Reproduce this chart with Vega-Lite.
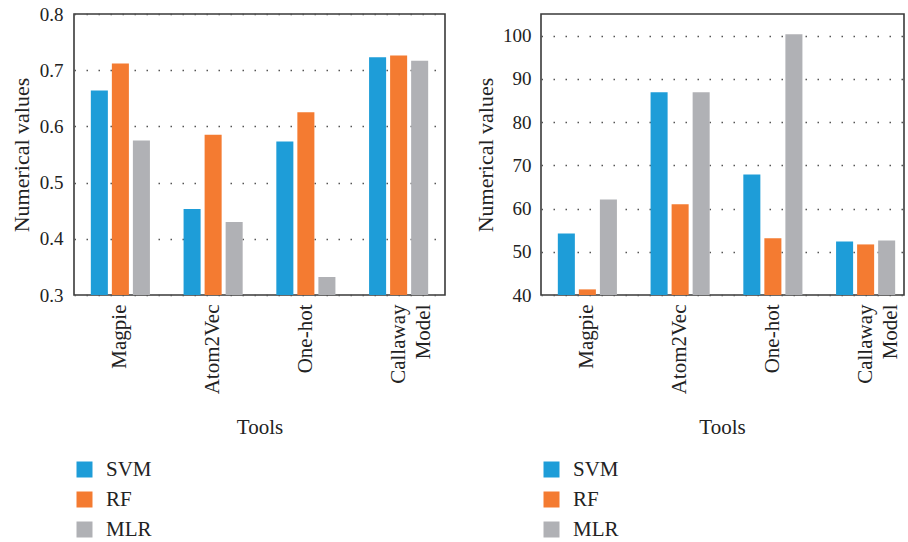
{
  "$schema": "https://vega.github.io/schema/vega-lite/v6.json",
  "padding": {"left": 9, "top": 4, "right": 0, "bottom": 0},
  "background": "white",
  "config": {
    "font": "Liberation Serif",
    "view": {"stroke": "#3a3a3a", "strokeWidth": 1.6},
    "axis": {
      "labelColor": "#222222",
      "titleColor": "#222222",
      "titleFontWeight": "normal",
      "labelFontSize": 19,
      "titleFontSize": 21,
      "ticks": false,
      "domain": false
    },
    "legend": {
      "labelColor": "#222222"
    }
  },
  "datasets": {
    "left": [
      {"tool": "Magpie", "model": "SVM", "value": 0.664},
      {"tool": "Magpie", "model": "RF", "value": 0.712},
      {"tool": "Magpie", "model": "MLR", "value": 0.575},
      {"tool": "Atom2Vec", "model": "SVM", "value": 0.453},
      {"tool": "Atom2Vec", "model": "RF", "value": 0.585},
      {"tool": "Atom2Vec", "model": "MLR", "value": 0.430},
      {"tool": "One-hot", "model": "SVM", "value": 0.573},
      {"tool": "One-hot", "model": "RF", "value": 0.625},
      {"tool": "One-hot", "model": "MLR", "value": 0.332},
      {"tool": "Callaway Model", "model": "SVM", "value": 0.723},
      {"tool": "Callaway Model", "model": "RF", "value": 0.726},
      {"tool": "Callaway Model", "model": "MLR", "value": 0.717}
    ],
    "right": [
      {"tool": "Magpie", "model": "SVM", "value": 54.2},
      {"tool": "Magpie", "model": "RF", "value": 41.3},
      {"tool": "Magpie", "model": "MLR", "value": 62.1},
      {"tool": "Atom2Vec", "model": "SVM", "value": 86.9},
      {"tool": "Atom2Vec", "model": "RF", "value": 61.0},
      {"tool": "Atom2Vec", "model": "MLR", "value": 86.9},
      {"tool": "One-hot", "model": "SVM", "value": 67.9},
      {"tool": "One-hot", "model": "RF", "value": 53.1},
      {"tool": "One-hot", "model": "MLR", "value": 100.3},
      {"tool": "Callaway Model", "model": "SVM", "value": 52.4},
      {"tool": "Callaway Model", "model": "RF", "value": 51.7},
      {"tool": "Callaway Model", "model": "MLR", "value": 52.6}
    ]
  },
  "spacing": 27,
  "resolve": {"scale": {"y": "independent", "x": "independent", "color": "independent"}, "legend": {"color": "independent"}},
  "hconcat": [
    {
      "width": 371,
      "height": 281,
      "data": {"name": "left"},
      "mark": {"type": "bar"},
      "encoding": {
        "x": {
          "field": "tool", "type": "nominal",
          "sort": ["Magpie", "Atom2Vec", "One-hot", "Callaway Model"],
          "scale": {"paddingInner": 0, "paddingOuter": 0},
          "axis": {
            "title": "Tools",
            "labelAngle": -90,
            "labelAlign": "right",
            "labelBaseline": "middle",
            "labelFontSize": 21,
            "labelLineHeight": 25,
            "labelPadding": 9,
            "labelLimit": 300,
            "titlePadding": 23,
            "labelExpr": "datum.value == 'Callaway Model' ? ['Callaway', 'Model'] : datum.label"
          }
        },
        "xOffset": {
          "field": "model", "type": "nominal",
          "sort": ["SVM", "RF", "MLR"],
          "scale": {"paddingInner": 0.19, "paddingOuter": 0.8}
        },
        "y": {
          "field": "value", "type": "quantitative",
          "scale": {"domain": [0.3, 0.8], "zero": false, "nice": false},
          "axis": {
            "title": "Numerical values",
            "titleFontSize": 22,
            "values": [0.3, 0.4, 0.5, 0.6, 0.7, 0.8],
            "format": ".1f",
            "labelPadding": 11,
            "labelFlush": false,
            "titlePadding": 6,
            "grid": true,
            "gridColor": "#555555",
            "gridDash": [1.5, 10.5],
            "gridWidth": 1.5
          }
        },
        "y2": {"datum": 0.3},
        "color": {
          "field": "model", "type": "nominal",
          "sort": ["SVM", "RF", "MLR"],
          "scale": {"domain": ["SVM", "RF", "MLR"], "range": ["#1e9dd8", "#f47b31", "#b0b1b5"]},
          "legend": {
            "title": null,
            "orient": "none",
            "legendX": 0,
            "legendY": 445,
            "direction": "vertical",
            "symbolType": "square",
            "symbolSize": 256,
            "symbolStrokeWidth": 0,
            "labelFontSize": 21,
            "labelOffset": 11,
            "rowPadding": 8,
            "padding": 0
          }
        }
      }
    },
    {
      "width": 363,
      "height": 281,
      "data": {"name": "right"},
      "mark": {"type": "bar"},
      "encoding": {
        "x": {
          "field": "tool", "type": "nominal",
          "sort": ["Magpie", "Atom2Vec", "One-hot", "Callaway Model"],
          "scale": {"paddingInner": 0, "paddingOuter": 0, "range": [0, 371]},
          "axis": {
            "title": "Tools",
            "labelAngle": -90,
            "labelAlign": "right",
            "labelBaseline": "middle",
            "labelFontSize": 21,
            "labelLineHeight": 25,
            "labelPadding": 9,
            "labelLimit": 300,
            "titlePadding": 23,
            "titleX": 181,
            "labelExpr": "datum.value == 'Callaway Model' ? ['Callaway', 'Model'] : datum.label"
          }
        },
        "xOffset": {
          "field": "model", "type": "nominal",
          "sort": ["SVM", "RF", "MLR"],
          "scale": {"paddingInner": 0.19, "paddingOuter": 0.8}
        },
        "y": {
          "field": "value", "type": "quantitative",
          "scale": {"domain": [40, 105], "zero": false, "nice": false},
          "axis": {
            "title": "Numerical values",
            "titleFontSize": 22,
            "values": [40, 50, 60, 70, 80, 90, 100],
            "labelPadding": 10,
            "labelFlush": false,
            "titlePadding": 5,
            "grid": true,
            "gridColor": "#555555",
            "gridDash": [1.5, 10.5],
            "gridWidth": 1.5
          }
        },
        "y2": {"datum": 40},
        "color": {
          "field": "model", "type": "nominal",
          "sort": ["SVM", "RF", "MLR"],
          "scale": {"domain": ["SVM", "RF", "MLR"], "range": ["#1e9dd8", "#f47b31", "#b0b1b5"]},
          "legend": {
            "title": null,
            "orient": "none",
            "legendX": 0,
            "legendY": 445,
            "direction": "vertical",
            "symbolType": "square",
            "symbolSize": 256,
            "symbolStrokeWidth": 0,
            "labelFontSize": 21,
            "labelOffset": 11,
            "rowPadding": 8,
            "padding": 0
          }
        }
      }
    }
  ]
}
